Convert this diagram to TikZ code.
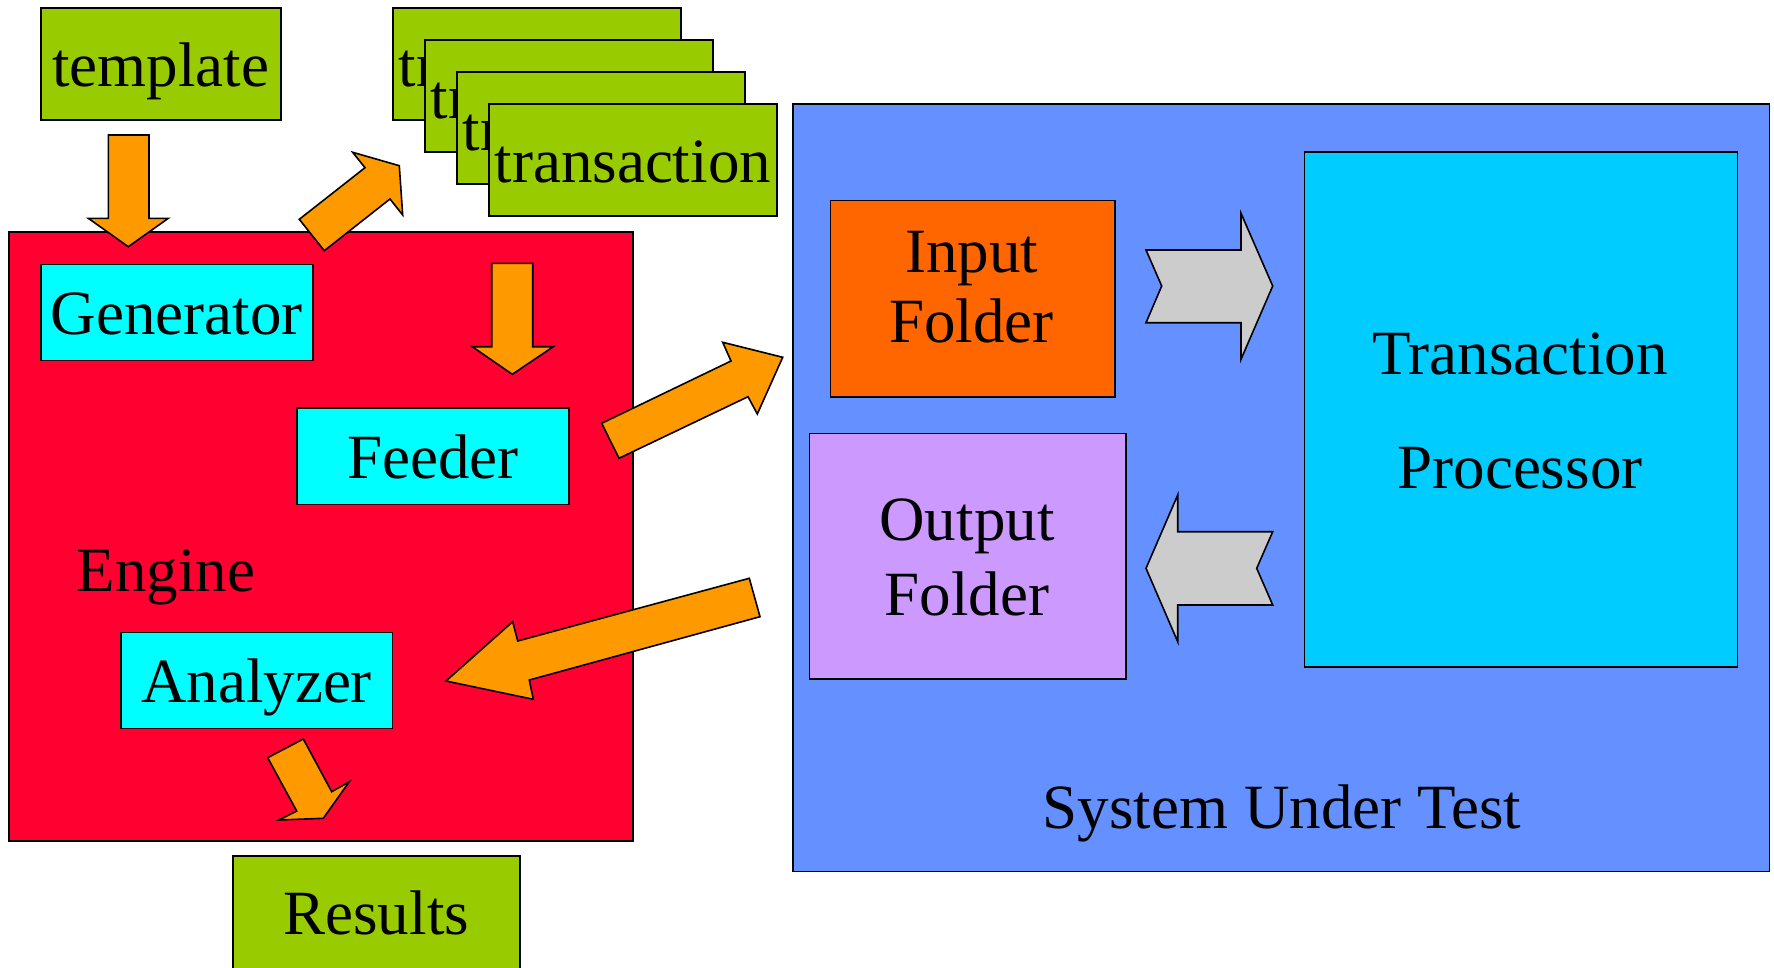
\documentclass[tikz,border=0pt]{standalone}
\usepackage{fontspec}
\setmainfont{Liberation Serif}
\newcommand\bigtxt{\fontsize{63}{76}\selectfont}
\definecolor{cgreen}{HTML}{99CC00}
\definecolor{cred}{HTML}{FF0030}
\definecolor{corange}{HTML}{FF9900}
\definecolor{ccyan}{HTML}{00FFFF}
\definecolor{cblue}{RGB}{100,145,255}
\definecolor{cinput}{HTML}{FF6600}
\definecolor{coutput}{HTML}{CC99FF}
\definecolor{cproc}{HTML}{00CCFF}
\definecolor{cgray}{HTML}{CCCCCC}
\begin{document}
\begin{tikzpicture}[x=1pt,y=-1pt,
  box/.style={draw=black, line width=1.5pt, rectangle, inner sep=0pt, anchor=north west,
    font=\bigtxt, text height=60.5pt, text depth=15.75pt},
  txt/.style={font=\bigtxt, anchor=base, inner sep=0pt},
  blockarrow/.style={draw=black, line width=1.6pt, line join=miter, fill=corange},
  grayarrow/.style={draw=black, line width=1.6pt, line join=miter, fill=cgray}]
\useasboundingbox (0,0) rectangle (1774,967);
\clip (0,0) rectangle (1774,967);

% System under test
\node[box, fill=cblue, minimum width=976.5pt, minimum height=767.5pt] (sut) at (792,103) {};
\node[txt] (sutlabel) at (1282,828) {System Under Test};
\node[box, fill=cinput, minimum width=284.5pt, minimum height=196.5pt] (input) at (829.5,199.5) {};
\node[txt] (inputA) at (971.5,272) {Input};
\node[txt] (inputB) at (971.5,342) {Folder};
\node[box, fill=coutput, minimum width=316.5pt, minimum height=245.5pt] (output) at (808.5,432.5) {};
\node[txt] (outputA) at (967,540) {Output};
\node[txt] (outputB) at (967,615) {Folder};
\node[box, fill=cproc, minimum width=433pt, minimum height=515pt] (proc) at (1303.5,151) {};
\node[txt] (procA) at (1520,374) {Transaction};
\node[txt] (procB) at (1520,488) {Processor};
\draw[grayarrow] (1146,250) -- (1241,250) -- (1241,213.3) -- (1272.7,286) -- (1241,359.3)
  -- (1241,322.7) -- (1146,322.7) -- (1161.7,286) -- cycle;
\draw[grayarrow] (1146,568.3) -- (1177.7,495) -- (1177.7,531.7) -- (1272.7,531.7)
  -- (1256.7,568.3) -- (1272.7,605) -- (1177.7,605) -- (1177.7,641.7) -- cycle;

% template and transactions
\node[box, fill=cgreen, minimum width=240pt, minimum height=112pt] (template) at (40,7) {template};
\node[box, fill=cgreen, minimum width=288pt, minimum height=112pt] (tr1) at (392,7) {transaction};
\node[box, fill=cgreen, minimum width=288pt, minimum height=112pt] (tr2) at (424,39) {transaction};
\node[box, fill=cgreen, minimum width=288pt, minimum height=112pt] (tr3) at (456,71) {transaction};
\node[box, fill=cgreen, minimum width=288pt, minimum height=112pt] (tr4) at (488,103) {transaction};

% Engine
\node[box, fill=cred, minimum width=624pt, minimum height=609pt] (engine) at (8,231) {};
\node[txt] (enginelabel) at (166,591.6) {Engine};
\node[box, fill=ccyan, minimum width=272pt, minimum height=96pt] (generator) at (40,263.5) {Generator};
\node[box, fill=ccyan, minimum width=271.6pt, minimum height=96.2pt] (feeder) at (296.4,407.3) {Feeder};
\node[box, fill=ccyan, minimum width=271.5pt, minimum height=96pt] (analyzer) at (120,631.5) {Analyzer};
\node[box, fill=cgreen, minimum width=287pt, minimum height=113pt] (results) at (232,855) {Results};

% orange block arrows
\draw[blockarrow] (108.3,135) -- (149,135) -- (149,218.3) -- (168.3,218.3) -- (128.3,246.7)
  -- (88.3,218.3) -- (108.3,218.3) -- cycle;
\draw[blockarrow] (491.7,263.3) -- (532.7,263.3) -- (532.7,346.7) -- (553.3,346.7) -- (512.3,374.3)
  -- (472.3,346.7) -- (491.7,346.7) -- cycle;
\draw[blockarrow] (299.3,219.3) -- (365,167.7) -- (352.7,152.3) -- (399.3,165.7) -- (402.7,215)
  -- (390,199) -- (324.3,250.7) -- cycle;
\draw[blockarrow] (601.7,423.3) -- (731,361) -- (722.7,342.3) -- (782.7,357.3) -- (757.3,414)
  -- (748,396.7) -- (619,458.3) -- cycle;
\draw[blockarrow] (749.3,578.3) -- (760,616.7) -- (529.3,680) -- (533.3,699.3) -- (446,681)
  -- (512.7,621.7) -- (517.7,641) -- cycle;
\draw[blockarrow] (267.7,757.7) -- (303.3,739) -- (331.7,791.7) -- (349.3,781.7) -- (323.3,818.3)
  -- (279,820) -- (296.7,811) -- cycle;
\end{tikzpicture}
\end{document}
